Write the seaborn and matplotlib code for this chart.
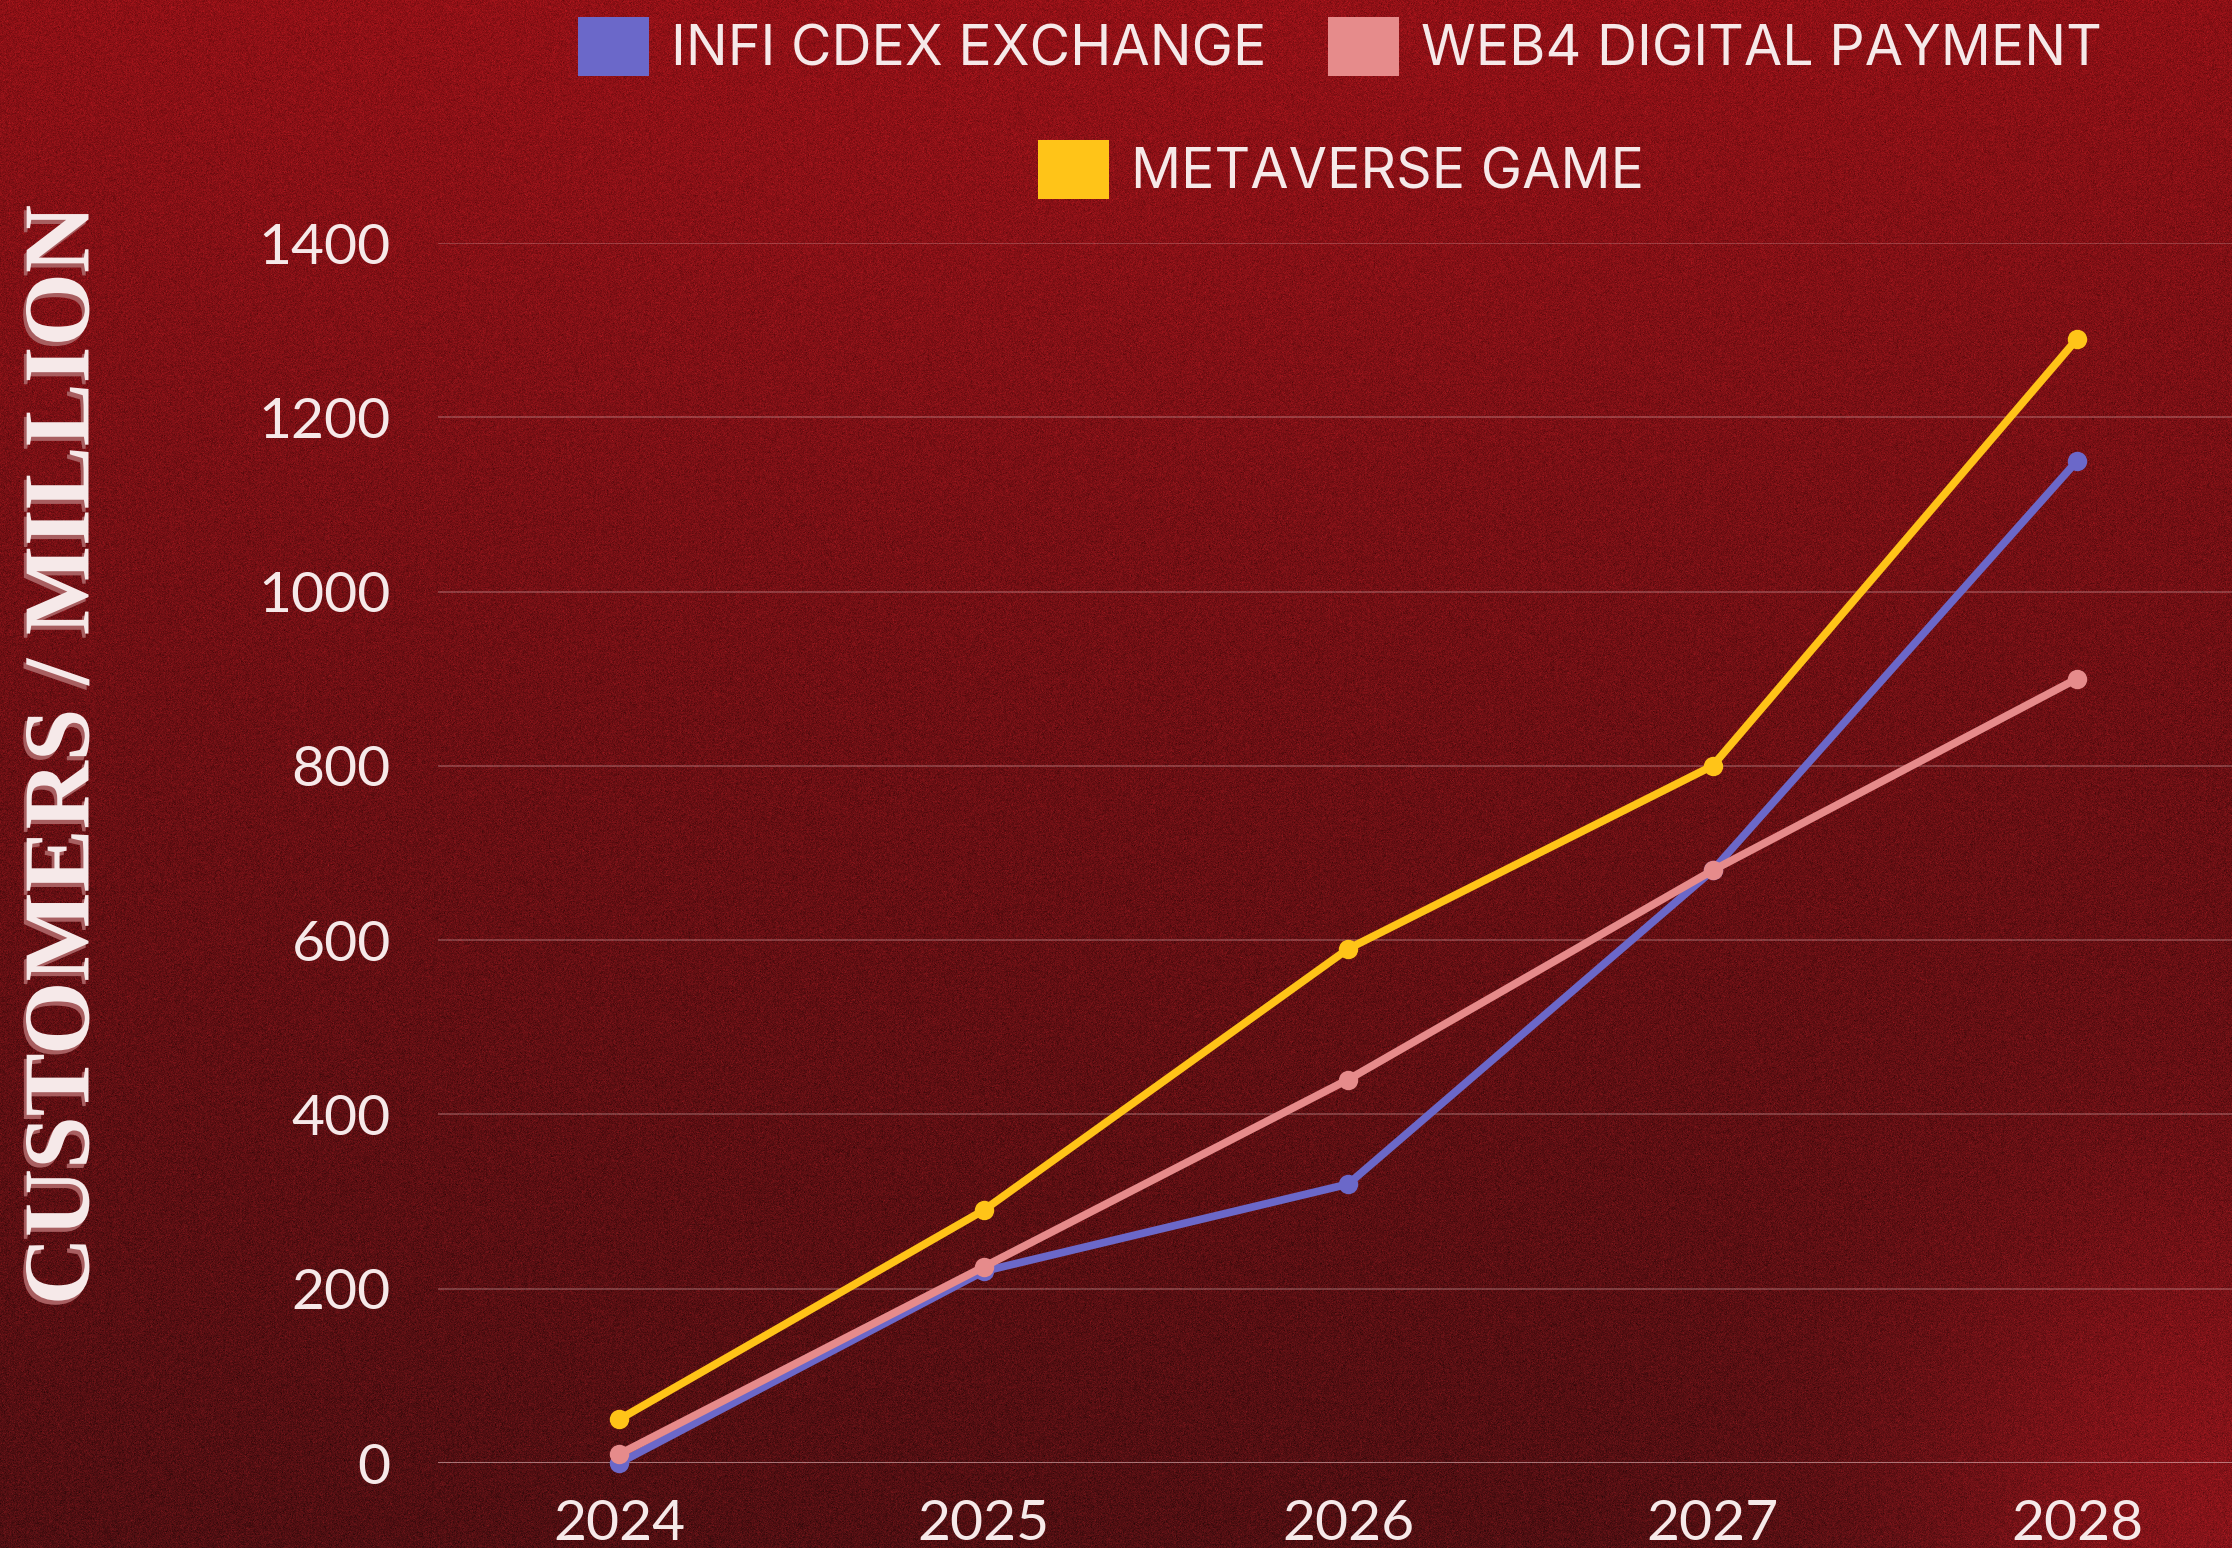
import numpy as np
import pandas as pd
import matplotlib
matplotlib.use("Agg")
import matplotlib.pyplot as plt
import seaborn as sns
from matplotlib import font_manager as fm
from matplotlib.patches import Patch
import matplotlib.patheffects as pe

# ---------------- data ----------------
years = [2024, 2025, 2026, 2027, 2028]
series_names = ["INFI CDEX EXCHANGE", "WEB4 DIGITAL PAYMENT", "METAVERSE GAME"]
infi_cdex = [0, 220, 320, 680, 1150]
web4_payment = [10, 225, 440, 680, 900]
metaverse_game = [50, 290, 590, 800, 1290]
y_ticks = [0, 200, 400, 600, 800, 1000, 1200, 1400]
x_tick_labels = ["2024", "2025", "2026", "2027", "2028"]
y_label = "CUSTOMERS / MILLION"
series_colors = ["#6b68c9", "#e68b8b", "#ffc418"]

df = pd.DataFrame({
    "year": years * 3,
    "value": infi_cdex + web4_payment + metaverse_game,
    "series": [series_names[0]] * 5 + [series_names[1]] * 5 + [series_names[2]] * 5,
})

# ---------------- fonts ----------------
def pick(fams):
    for f in fams:
        try:
            fm.findfont(fm.FontProperties(family=f), fallback_to_default=False)
            return f
        except Exception:
            pass
    return "DejaVu Sans"

tick_font = pick(["Lato", "Open Sans", "DejaVu Sans"])
legend_font = pick(["Inter", "Roboto", "DejaVu Sans"])
label_font = pick(["Liberation Serif", "DejaVu Serif"])
text_color = "#f6e9e9"

sns.set_theme(style="white")
plt.rcParams["font.family"] = [tick_font, "DejaVu Sans"]

W, H = 2232, 1548
fig = plt.figure(figsize=(W / 100, H / 100), dpi=100)

# ---------------- background ----------------
bg_ax = fig.add_axes([0, 0, 1, 1], zorder=-10)
yy = np.linspace(0, 1, H)[:, None]
xx = np.linspace(0, 1, W)[None, :]
top = np.array([138, 16, 21], float)
bot = np.array([80, 15, 18], float)
t = np.clip(yy ** 0.85, 0, 1)
img = top[None, None, :] * (1 - t[..., None]) + bot[None, None, :] * t[..., None]
img = np.broadcast_to(img, (H, W, 3)).copy()
glow = np.exp(-(((1 - xx) ** 2) / 0.02 + ((1 - yy) ** 2) / 0.05))
img += glow[..., None] * (np.array([140, 20, 26]) - bot)[None, None, :] * 0.9
center_glow = np.exp(-(((xx - 0.45) ** 2) / 0.25 + ((yy - 0.1) ** 2) / 0.08))
img += center_glow[..., None] * np.array([10, 1, 2])[None, None, :]
rng = np.random.default_rng(3)
noise = rng.normal(0, 1, (H, W))
img[..., 0] += noise * 12
img[..., 1] += noise * 2.5
img[..., 2] += noise * 3
img = np.clip(img, 0, 255).astype(np.uint8)
bg_ax.imshow(img, aspect="auto", extent=[0, 1, 0, 1], interpolation="nearest")
bg_ax.set_axis_off()

# ---------------- main axes ----------------
left, right = 438 / W, 1.0
bottom, topp = 1 - 1463 / H, 1 - 243 / H
ax = fig.add_axes([left, bottom, right - left, topp - bottom])
ax.set_facecolor("none")

sns.lineplot(
    data=df, x="year", y="value", hue="series", hue_order=series_names,
    palette=series_colors, marker="o", markersize=14, markeredgewidth=0,
    linewidth=5.6, legend=False, ax=ax, clip_on=False, zorder=5,
)

ax.set_xlim(2023.503, 2028.425)
ax.set_ylim(0, 1400)
ax.set_yticks(y_ticks)
ax.set_yticklabels([str(v) for v in y_ticks])
ax.set_xticks(years)
ax.set_xticklabels(x_tick_labels)
ax.tick_params(axis="y", length=0, pad=34, labelsize=41, labelcolor=text_color)
ax.tick_params(axis="x", length=0, pad=26, labelsize=41, labelcolor=text_color)
for lab in ax.get_xticklabels() + ax.get_yticklabels():
    lab.set_fontweight("normal")
ax.set_xlabel("")
ax.set_ylabel("")
for s in ax.spines.values():
    s.set_visible(False)
for v in y_ticks:
    ax.axhline(v, color="#f1c9c9", alpha=0.55 if v == 0 else 0.28,
               linewidth=2.2 if v == 0 else 1.3, zorder=1)
ax.grid(False)

# y label
fig.text(66 / W, 1 - 755 / H, y_label, rotation=90, ha="center", va="center",
         fontsize=68, fontweight="bold", family=[label_font, "DejaVu Serif"],
         color=text_color,
         path_effects=[pe.withSimplePatchShadow(offset=(-2, -3), shadow_rgbFace="#a85e60", alpha=1.0)])

# ---------------- legend ----------------
handles = [Patch(facecolor=c, edgecolor="none") for c in series_colors]
leg_kw = dict(frameon=False, handlelength=1.28, handleheight=1.25,
              handletextpad=0.4, columnspacing=1.1, borderpad=0, borderaxespad=0,
              labelcolor=text_color, prop={"family": [legend_font, "DejaVu Sans"], "size": 40})
leg1 = fig.legend(handles[:2], series_names[:2], ncol=2, loc="center",
                  bbox_to_anchor=(1340 / W, 1 - 47 / H), **leg_kw)
leg2 = fig.legend(handles[2:], series_names[2:], ncol=1, loc="center",
                  bbox_to_anchor=(1341 / W, 1 - 170 / H), **leg_kw)

fig.savefig("out.png", dpi=100)
